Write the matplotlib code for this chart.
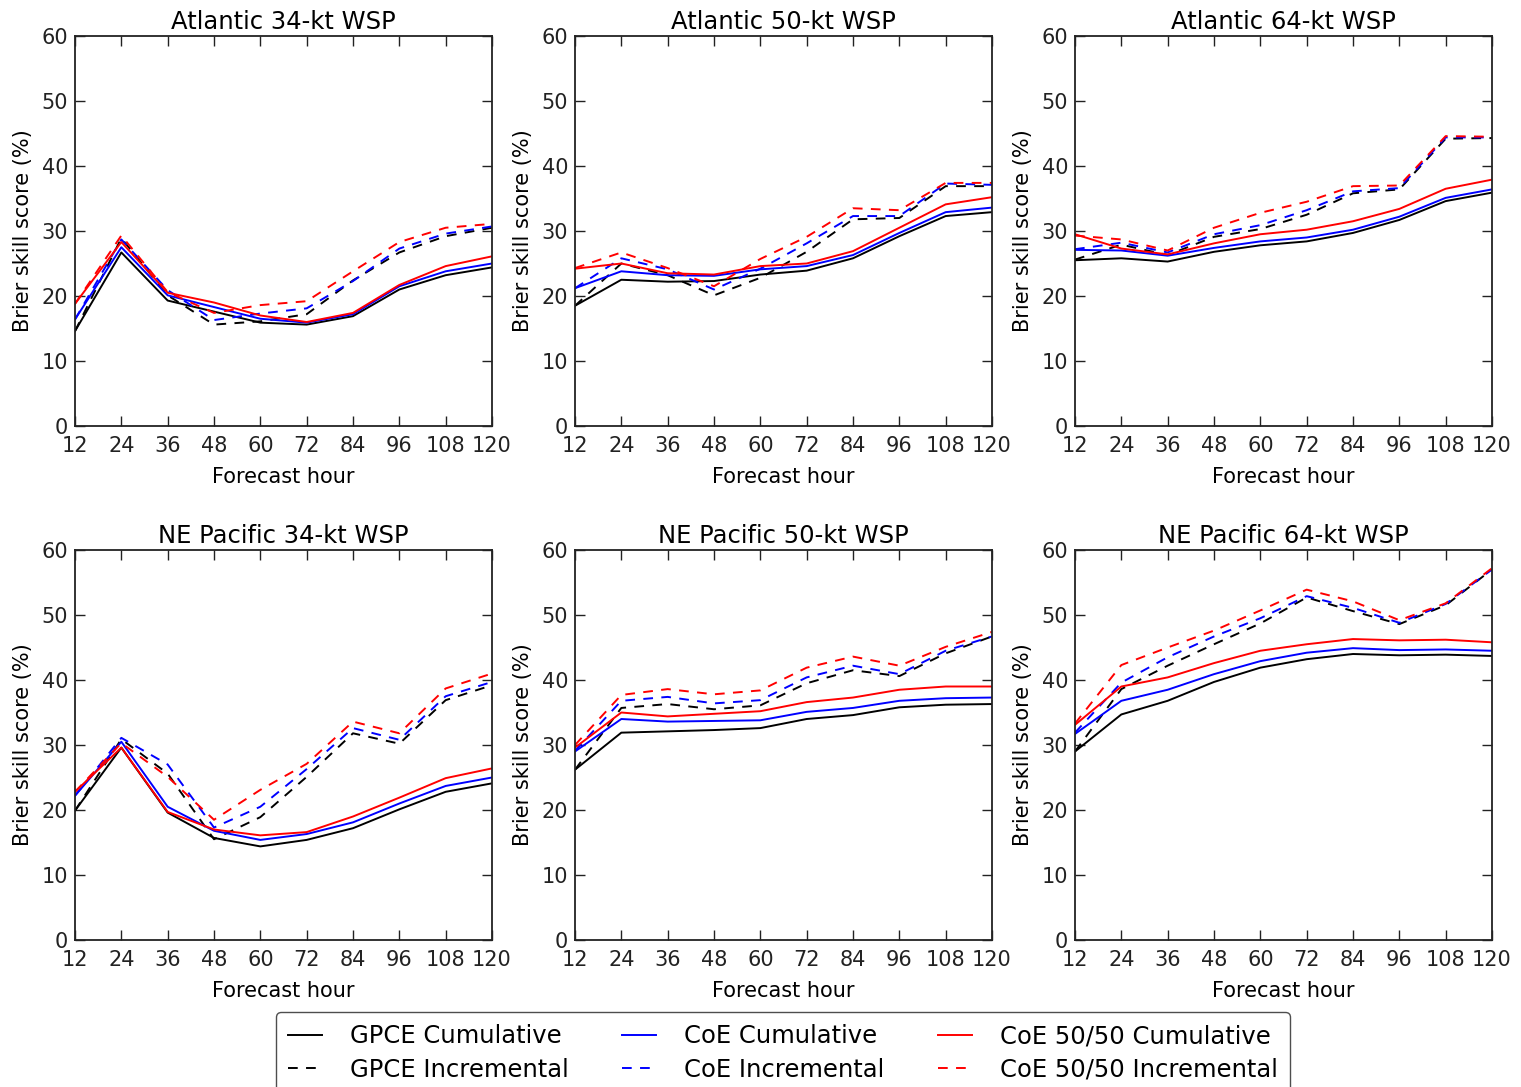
import matplotlib
matplotlib.use('Agg')
import matplotlib.pyplot as plt

hours = [12, 24, 36, 48, 60, 72, 84, 96, 108, 120]

titles = ["Atlantic 34-kt WSP", "Atlantic 50-kt WSP", "Atlantic 64-kt WSP",
          "NE Pacific 34-kt WSP", "NE Pacific 50-kt WSP", "NE Pacific 64-kt WSP"]

# Brier skill score (%) per panel
atl34_gpce_cum = [14.6, 26.7, 19.3, 17.6, 15.9, 15.6, 16.9, 21.0, 23.2, 24.4]
atl34_coe_cum = [16.4, 27.5, 20.1, 18.3, 16.5, 15.9, 17.2, 21.5, 23.8, 25.0]
atl34_c50_cum = [18.8, 28.3, 20.5, 19.0, 17.0, 16.0, 17.4, 21.7, 24.6, 26.1]
atl34_gpce_inc = [14.6, 28.9, 20.1, 15.6, 16.1, 17.2, 22.4, 26.7, 29.2, 30.5]
atl34_coe_inc = [16.4, 28.7, 20.9, 16.3, 17.3, 18.1, 22.3, 27.3, 29.6, 30.7]
atl34_c50_inc = [18.8, 29.3, 20.6, 17.4, 18.6, 19.2, 23.8, 28.3, 30.5, 31.1]

atl50_gpce_cum = [18.5, 22.5, 22.2, 22.3, 23.3, 23.9, 25.8, 29.2, 32.3, 32.9]
atl50_coe_cum = [21.2, 23.8, 23.2, 23.1, 24.1, 24.6, 26.3, 29.7, 32.9, 33.6]
atl50_c50_cum = [24.2, 25.0, 23.5, 23.3, 24.6, 25.0, 26.9, 30.5, 34.1, 35.2]
atl50_gpce_inc = [18.5, 25.0, 23.2, 20.1, 22.8, 26.8, 31.8, 32.0, 36.9, 36.9]
atl50_coe_inc = [21.2, 25.8, 24.1, 21.0, 24.2, 28.1, 32.3, 32.3, 37.3, 37.1]
atl50_c50_inc = [24.3, 26.7, 24.3, 21.5, 25.7, 29.1, 33.5, 33.2, 37.4, 37.4]

atl64_gpce_cum = [25.5, 25.8, 25.3, 26.8, 27.8, 28.4, 29.7, 31.7, 34.6, 35.9]
atl64_coe_cum = [27.1, 27.0, 26.2, 27.4, 28.4, 29.0, 30.2, 32.2, 35.1, 36.4]
atl64_c50_cum = [29.5, 27.3, 26.4, 28.1, 29.5, 30.2, 31.5, 33.4, 36.5, 37.9]
atl64_gpce_inc = [25.6, 27.9, 26.3, 29.1, 30.3, 32.5, 35.8, 36.4, 44.2, 44.3]
atl64_coe_inc = [27.2, 28.2, 26.7, 29.5, 30.9, 33.2, 36.1, 36.6, 44.4, 44.4]
atl64_c50_inc = [29.3, 28.7, 27.0, 30.5, 32.8, 34.5, 36.9, 37.0, 44.6, 44.5]

ep34_gpce_cum = [19.9, 29.6, 19.6, 15.7, 14.4, 15.4, 17.2, 20.1, 22.8, 24.1]
ep34_coe_cum = [22.2, 30.5, 20.5, 16.8, 15.4, 16.3, 18.1, 21.0, 23.7, 25.0]
ep34_c50_cum = [22.8, 29.6, 19.7, 17.0, 16.1, 16.6, 19.0, 21.9, 24.9, 26.4]
ep34_gpce_inc = [19.9, 30.9, 25.6, 15.5, 18.9, 25.1, 31.8, 30.2, 36.9, 39.2]
ep34_coe_inc = [22.2, 31.1, 27.0, 17.3, 20.5, 26.3, 32.6, 30.8, 37.5, 39.7]
ep34_c50_inc = [22.8, 30.3, 25.1, 18.5, 23.1, 27.1, 33.6, 31.8, 38.7, 41.0]

ep50_gpce_cum = [26.2, 31.9, 32.1, 32.3, 32.6, 34.0, 34.6, 35.8, 36.2, 36.3]
ep50_coe_cum = [29.0, 34.0, 33.6, 33.7, 33.8, 35.1, 35.7, 36.8, 37.2, 37.3]
ep50_c50_cum = [29.6, 35.0, 34.4, 34.8, 35.2, 36.6, 37.3, 38.5, 39.0, 39.0]
ep50_gpce_inc = [26.2, 35.7, 36.3, 35.5, 36.1, 39.5, 41.5, 40.6, 44.1, 46.7]
ep50_coe_inc = [29.1, 36.8, 37.4, 36.4, 36.9, 40.4, 42.2, 40.9, 44.5, 46.7]
ep50_c50_inc = [30.0, 37.7, 38.6, 37.8, 38.4, 41.9, 43.6, 42.2, 45.1, 47.4]

ep64_gpce_cum = [29.0, 34.7, 36.8, 39.7, 41.9, 43.2, 44.0, 43.8, 43.9, 43.7]
ep64_coe_cum = [31.7, 36.8, 38.5, 40.9, 42.9, 44.2, 44.9, 44.6, 44.7, 44.5]
ep64_c50_cum = [33.1, 39.0, 40.4, 42.6, 44.5, 45.5, 46.3, 46.1, 46.2, 45.8]
ep64_gpce_inc = [29.0, 38.6, 42.2, 45.5, 48.7, 52.7, 50.6, 48.6, 51.5, 57.0]
ep64_coe_inc = [31.9, 39.6, 43.5, 46.7, 49.5, 52.9, 51.1, 48.8, 51.7, 57.0]
ep64_c50_inc = [33.3, 42.3, 45.0, 47.6, 50.7, 53.9, 52.1, 49.2, 51.8, 57.2]

panels = [
    [atl34_gpce_cum, atl34_gpce_inc, atl34_coe_cum, atl34_coe_inc, atl34_c50_cum, atl34_c50_inc],
    [atl50_gpce_cum, atl50_gpce_inc, atl50_coe_cum, atl50_coe_inc, atl50_c50_cum, atl50_c50_inc],
    [atl64_gpce_cum, atl64_gpce_inc, atl64_coe_cum, atl64_coe_inc, atl64_c50_cum, atl64_c50_inc],
    [ep34_gpce_cum, ep34_gpce_inc, ep34_coe_cum, ep34_coe_inc, ep34_c50_cum, ep34_c50_inc],
    [ep50_gpce_cum, ep50_gpce_inc, ep50_coe_cum, ep50_coe_inc, ep50_c50_cum, ep50_c50_inc],
    [ep64_gpce_cum, ep64_gpce_inc, ep64_coe_cum, ep64_coe_inc, ep64_c50_cum, ep64_c50_inc],
]

series_labels = ["GPCE Cumulative", "GPCE Incremental", "CoE Cumulative",
                 "CoE Incremental", "CoE 50/50 Cumulative", "CoE 50/50 Incremental"]
series_colors = ["black", "black", "blue", "blue", "red", "red"]
series_styles = ["-", "--", "-", "--", "-", "--"]

plt.rcParams['font.family'] = 'DejaVu Sans'
plt.rcParams['lines.scale_dashes'] = False

fig = plt.figure(figsize=(15.21, 10.87), dpi=100)

lefts = [75 / 1521, 575 / 1521, 1075 / 1521]
width = 417 / 1521
bottoms = [1 - 426 / 1087, 1 - 940 / 1087]
height = 390 / 1087

handles = []
for i, (title, data) in enumerate(zip(titles, panels)):
    ax = fig.add_axes([lefts[i % 3], bottoms[i // 3], width, height])
    for ys, lab, col, ls in zip(data, series_labels, series_colors, series_styles):
        ln, = ax.plot(hours, ys, color=col, linestyle=ls, linewidth=1.4,
                      dashes=(7, 6) if ls == '--' else (None, None), label=lab)
        if i == 0:
            handles.append(ln)
    ax.set_xlim(12, 120)
    ax.set_ylim(0, 60)
    ax.set_xticks(hours)
    ax.set_yticks(range(0, 61, 10))
    ax.tick_params(direction='in', top=True, right=True, labelsize=15,
                   length=7, width=1, colors='#222222')
    ax.tick_params(axis='x', pad=7)
    ax.tick_params(axis='y', pad=5)
    for sp in ax.spines.values():
        sp.set_linewidth(1.3)
        sp.set_color('#222222')
    ax.set_title(title, fontsize=17.5, pad=5)
    ax.set_xlabel("Forecast hour", fontsize=15, labelpad=8)
    ax.set_ylabel("Brier skill score (%)", fontsize=15, labelpad=6)

# legend order by columns: GPCE, CoE, CoE 50/50
fig.legend(handles, series_labels, ncol=3, loc='upper center',
           bbox_to_anchor=(783 / 1521, 1 - 1012 / 1087), fontsize=17.5,
           handlelength=1.4, handletextpad=1.15, columnspacing=2.2,
           frameon=True, fancybox=True, edgecolor='#222222',
           borderpad=0.5, labelspacing=0.4, borderaxespad=0)

fig.savefig("out.png", dpi=100)
